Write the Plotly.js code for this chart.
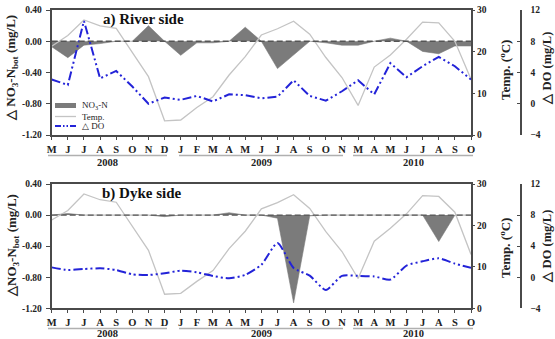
<!DOCTYPE html>
<html>
<head>
<meta charset="utf-8">
<script src="https://cdn.plot.ly/plotly-3.0.1.min.js"></script>
<style>html,body{margin:0;padding:0;background:#fff;}#chart{width:555px;height:339px;}</style>
</head>
<body>
<div id="chart"></div>
<script>
// ---------------- data ----------------
const months = ['M','J','J','A','S','O','N','D','J','F','M','A','M','J','J','A','S','O','N','M','A','M','J','J','A','S','O'];
const years = ['2008', '2009', '2010'];

// a) River side
const riverNO3  = [-0.07,-0.21,-0.05,-0.03,0.00,0.00,0.20,0.00,-0.18,-0.02,-0.02,0.00,0.18,0.00,-0.35,-0.18,0.00,-0.02,-0.05,-0.05,0.00,0.04,0.00,-0.13,-0.16,-0.06,-0.06];
const riverTemp = [21.3,23.9,27.6,26.2,25.6,19.8,14.0,3.4,3.6,6.6,9.2,14.4,18.8,24.0,25.5,27.3,24.2,18.6,13.8,7.1,16.3,19.2,23.0,27.1,26.9,22.5,13.4];
const riverDO   = [3.1,2.4,10.6,3.25,4.2,2.2,0.0,0.8,0.5,1.0,0.3,1.2,1.1,0.7,0.9,3.0,1.0,0.4,1.6,3.0,1.2,5.2,3.4,4.8,6.0,4.8,3.1];

// b) Dyke side
const dykeNO3  = [0.00,0.02,0.00,0.00,0.00,0.00,0.00,-0.02,0.00,0.00,0.00,0.03,0.00,0.00,-0.04,-1.13,-0.01,0.00,0.00,0.00,0.00,0.00,0.00,0.00,-0.34,0.00,0.00];
const dykeTemp = [21.3,23.6,27.6,26.2,25.6,19.8,14.0,3.4,3.6,6.5,9.1,14.4,18.6,24.0,25.5,27.4,24.1,18.5,13.7,7.2,16.2,19.3,22.8,27.2,27.0,23.2,13.0];
const dykeDO   = [1.27,0.93,1.06,1.15,0.93,0.37,0.29,0.5,0.85,0.63,0.16,-0.14,0.3,1.6,4.4,1.2,0.2,-1.64,0.18,0.18,0.1,-0.3,1.5,2.05,2.43,1.75,1.2];

// tick labels
const no3TickVals = [-1.2,-0.8,-0.4,0,0.4];
const no3TickText = ['-1.20','-0.80','-0.40','0.00','0.40'];
const tempTickVals = [0,10,20,30];
const doTickVals = [-4,0,4,8,12];

// ---------------- styling ----------------
const W = 555, H = 339;
const px = v => v / W;
const py = v => 1 - v / H;
const SERIF = '"Liberation Serif", "Times New Roman", Times, serif';
const AX = '#4a4a4a';
const idx = months.map((_, i) => i);

const areaColor = '#7b7b7b';
const tempColor = '#c4c4c4';
const doColor = '#2323d8';
const doDash = '9px,3px,2px,3px,2px,3px';

function panelTraces(no3, temp, dov, xa, ya, yt, yd, smooth) {
  return [
    {x: idx, y: no3, type: 'scatter', mode: 'lines', fill: 'tozeroy',
     fillcolor: areaColor, line: {color: areaColor, width: 0.6},
     xaxis: xa, yaxis: ya, showlegend: false, hoverinfo: 'skip'},
    {x: idx, y: temp, type: 'scatter', mode: 'lines',
     line: {color: tempColor, width: 1.3},
     xaxis: xa, yaxis: yt, showlegend: false, hoverinfo: 'skip'},
    {x: idx, y: dov, type: 'scatter', mode: 'lines',
     line: {color: doColor, width: 2, dash: doDash, shape: smooth ? 'spline' : 'linear', smoothing: 0.6},
     xaxis: xa, yaxis: yd, showlegend: false, hoverinfo: 'skip'}
  ];
}

const data = [
  ...panelTraces(riverNO3, riverTemp, riverDO, 'x', 'y', 'y2', 'y3', false),
  ...panelTraces(dykeNO3, dykeTemp, dykeDO, 'x2', 'y4', 'y5', 'y6', true)
];

const xDom = [px(51.7), px(471)];
const domA = [py(135), py(10)];
const domB = [py(308.3), py(184)];

const tickFont = {family: SERIF, size: 10, color: '#222', weight: 'bold'};

function xAxis(anchor) {
  return {domain: xDom, anchor: anchor, range: [0, 26], tickvals: idx, ticktext: months,
    ticks: 'outside', ticklen: 3, tickwidth: 1, tickcolor: AX,
    showline: true, linecolor: AX, linewidth: 2, mirror: true,
    showgrid: false, zeroline: false, tickfont: {family: SERIF, size: 10.5, color: '#222', weight: 'bold'},
    automargin: false, fixedrange: true};
}
function no3Axis(dom, anchor) {
  return {domain: dom, anchor: anchor, range: [-1.2, 0.4], tickvals: no3TickVals, ticktext: no3TickText,
    ticks: 'outside', ticklen: 4, tickcolor: AX, showline: true, linecolor: AX, linewidth: 2, mirror: true,
    showgrid: false, zeroline: false, tickfont: Object.assign({}, tickFont, {size: 9.5}), ticklabelstandoff: 2,
    automargin: false, fixedrange: true};
}
function tempAxis(over, anchor) {
  return {overlaying: over, anchor: anchor, side: 'right', range: [0, 30], tickvals: tempTickVals,
    ticks: 'outside', ticklen: 3, tickcolor: AX, showline: false,
    showgrid: false, zeroline: false, tickfont: Object.assign({}, tickFont, {size: 9.5}),
    automargin: false, fixedrange: true};
}
function doAxis(over, dom) {
  return {overlaying: over, anchor: 'free', position: px(520), side: 'right', range: [-4, 12], tickvals: doTickVals,
    ticks: 'inside', ticklen: 3, tickcolor: AX, showline: true, linecolor: AX, linewidth: 1.5,
    showgrid: false, zeroline: false, tickfont: Object.assign({}, tickFont, {size: 9.5}), ticklabelstandoff: 7,
    automargin: false, fixedrange: true};
}

// year span lines (pixel positions)
const yearSpans = [[48, 167], [179, 343], [353, 473]];
const shapes = [];
const annotations = [];

function zeroLine(xref, yref) {
  shapes.push({type: 'line', xref: xref, yref: yref, x0: 0, x1: 26, y0: 0, y1: 0,
    line: {color: '#555', width: 1.3, dash: '6px,3px'}, layer: 'above'});
}
zeroLine('x', 'y');
zeroLine('x2', 'y4');

[[155.5, 162.5], [328.5, 333.5]].forEach(([lineY, textY]) => {
  yearSpans.forEach((s, k) => {
    shapes.push({type: 'line', xref: 'paper', yref: 'paper', x0: px(s[0]), x1: px(s[1]),
      y0: py(lineY), y1: py(lineY), line: {color: '#b0b0b0', width: 1.5}});
    annotations.push({xref: 'paper', yref: 'paper', x: px((s[0] + s[1]) / 2), y: py(textY),
      text: years[k], showarrow: false, xanchor: 'center', yanchor: 'middle',
      font: {family: SERIF, size: 10.5, color: '#222', weight: 'bold'}});
  });
});

// panel titles
annotations.push({xref: 'paper', yref: 'paper', x: px(143), y: py(20), text: 'a) River side',
  showarrow: false, xanchor: 'center', yanchor: 'middle', font: {family: SERIF, size: 15, color: '#111', weight: 'bold'}});
annotations.push({xref: 'paper', yref: 'paper', x: px(142), y: py(193), text: 'b) Dyke side',
  showarrow: false, xanchor: 'center', yanchor: 'middle', font: {family: SERIF, size: 15, color: '#111', weight: 'bold'}});

// axis titles
const titleFont = {family: SERIF, size: 13, color: '#222', weight: 'bold'};
[[68, '△ NO<sub>3</sub>-N<sub>bot</sub> (mg/L)'], [246, '△NO<sub>3</sub>-N<sub>bot</sub> (mg/L)']].forEach(([cy, t]) => {
  annotations.push({xref: 'paper', yref: 'paper', x: px(12), y: py(cy), text: t, textangle: -90,
    showarrow: false, xanchor: 'center', yanchor: 'middle', font: titleFont});
  annotations.push({xref: 'paper', yref: 'paper', x: px(505), y: py(cy + 2), text: 'Temp. (<sup>o</sup>C)', textangle: -90,
    showarrow: false, xanchor: 'center', yanchor: 'middle', font: titleFont});
  annotations.push({xref: 'paper', yref: 'paper', x: px(546.5), y: py(cy), text: '△ DO (mg/L)', textangle: -90,
    showarrow: false, xanchor: 'center', yanchor: 'middle', font: Object.assign({}, titleFont, {size: 12.5})});
});

// manual legend (panel a)
const legFont = {family: SERIF, size: 9, color: '#222'};
shapes.push({type: 'rect', xref: 'paper', yref: 'paper', x0: px(55), x1: px(76), y0: py(103), y1: py(108),
  fillcolor: areaColor, line: {width: 0}});
shapes.push({type: 'line', xref: 'paper', yref: 'paper', x0: px(55), x1: px(76), y0: py(116.5), y1: py(116.5),
  line: {color: tempColor, width: 1.3}});
shapes.push({type: 'line', xref: 'paper', yref: 'paper', x0: px(55), x1: px(76), y0: py(126), y1: py(126),
  line: {color: doColor, width: 2, dash: '6px,2px,1.5px,2px,1.5px,2px'}});
[['NO<sub>3</sub>-N', 105.5], ['Temp.', 116.5], ['△ DO', 126]].forEach(([t, y]) => {
  annotations.push({xref: 'paper', yref: 'paper', x: px(80), y: py(y), text: t, showarrow: false,
    xanchor: 'left', yanchor: 'middle', font: legFont});
});

const layout = {
  width: W, height: H, margin: {l: 0, r: 0, t: 0, b: 0, pad: 0},
  paper_bgcolor: '#fff', plot_bgcolor: 'rgba(0,0,0,0)', showlegend: false,
  xaxis: xAxis('y'),
  yaxis: no3Axis(domA, 'x'),
  yaxis2: tempAxis('y', 'x'),
  yaxis3: doAxis('y', domA),
  xaxis2: xAxis('y4'),
  yaxis4: no3Axis(domB, 'x2'),
  yaxis5: tempAxis('y4', 'x2'),
  yaxis6: doAxis('y4', domB),
  shapes: shapes,
  annotations: annotations
};

Plotly.newPlot('chart', data, layout, {displayModeBar: false, staticPlot: true});
</script>
</body>
</html>
